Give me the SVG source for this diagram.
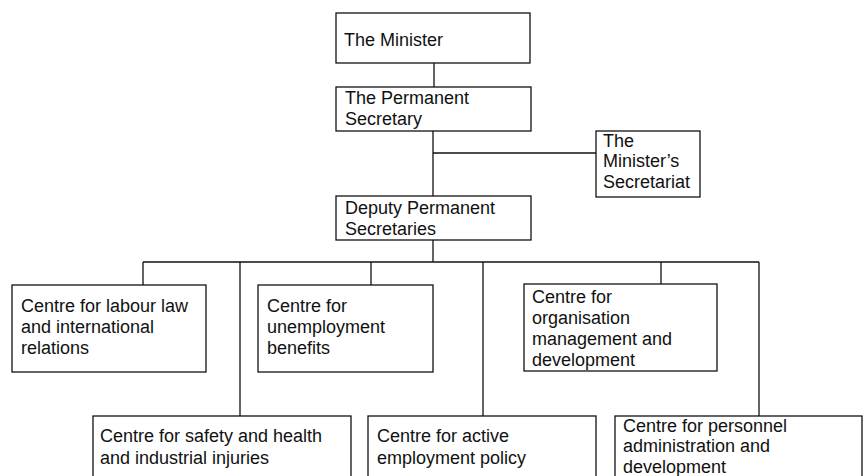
<svg xmlns="http://www.w3.org/2000/svg" width="864" height="476" viewBox="0 0 864 476">
  <style>
    .box { fill: #ffffff; stroke: #111111; stroke-width: 1.3; }
    .lbl { font-family: "Liberation Sans", Arial, sans-serif; font-size: 18px; fill: #111111; }
    .conn { stroke: #111111; stroke-width: 1.3; fill: none; }
  </style>
  <rect width="864" height="476" fill="#ffffff"/>

  <!-- connectors -->
  <g id="connectors" class="conn">
    <line x1="434" y1="63" x2="434" y2="87"/>
    <line x1="433" y1="131" x2="433" y2="196"/>
    <line x1="433" y1="153" x2="596" y2="153"/>
    <line x1="433" y1="240" x2="433" y2="262"/>
    <line x1="143" y1="262" x2="759" y2="262"/>
    <line x1="143" y1="262" x2="143" y2="285"/>
    <line x1="240" y1="262" x2="240" y2="416"/>
    <line x1="371" y1="262" x2="371" y2="285"/>
    <line x1="483" y1="262" x2="483" y2="416"/>
    <line x1="661" y1="262" x2="661" y2="284"/>
    <line x1="759" y1="262" x2="759" y2="416"/>
  </g>

  <g id="minister">
    <rect class="box" x="336" y="13" width="194" height="50"/>
    <text class="lbl" x="344" y="46">The Minister</text>
  </g>

  <g id="permanent-secretary">
    <rect class="box" x="336" y="87" width="195" height="44"/>
    <text class="lbl" x="345" y="104">The Permanent</text>
    <text class="lbl" x="345" y="125">Secretary</text>
  </g>

  <g id="secretariat">
    <rect class="box" x="596" y="131" width="104" height="66"/>
    <text class="lbl" x="603" y="147">The</text>
    <text class="lbl" x="603" y="167">Minister’s</text>
    <text class="lbl" x="603" y="188">Secretariat</text>
  </g>

  <g id="deputy">
    <rect class="box" x="336" y="196" width="195" height="44"/>
    <text class="lbl" x="345" y="214">Deputy Permanent</text>
    <text class="lbl" x="345" y="235">Secretaries</text>
  </g>

  <g id="labour-law">
    <rect class="box" x="12" y="285" width="194" height="87"/>
    <text class="lbl" x="21" y="312">Centre for labour law</text>
    <text class="lbl" x="21" y="333">and international</text>
    <text class="lbl" x="21" y="354">relations</text>
  </g>

  <g id="unemployment">
    <rect class="box" x="258" y="285" width="175" height="87"/>
    <text class="lbl" x="267" y="312">Centre for</text>
    <text class="lbl" x="267" y="333">unemployment</text>
    <text class="lbl" x="267" y="354">benefits</text>
  </g>

  <g id="organisation">
    <rect class="box" x="524" y="284" width="193" height="87"/>
    <text class="lbl" x="532" y="303">Centre for</text>
    <text class="lbl" x="532" y="324">organisation</text>
    <text class="lbl" x="532" y="345">management and</text>
    <text class="lbl" x="532" y="366">development</text>
  </g>

  <g id="safety">
    <rect class="box" x="93" y="416" width="258" height="70"/>
    <text class="lbl" x="100" y="442">Centre for safety and health</text>
    <text class="lbl" x="100" y="464">and industrial injuries</text>
  </g>

  <g id="active-employment">
    <rect class="box" x="368" y="416" width="228" height="70"/>
    <text class="lbl" x="377" y="442">Centre for active</text>
    <text class="lbl" x="377" y="464">employment policy</text>
  </g>

  <g id="personnel">
    <rect class="box" x="615" y="416" width="247" height="70"/>
    <text class="lbl" x="623" y="432">Centre for personnel</text>
    <text class="lbl" x="623" y="452">administration and</text>
    <text class="lbl" x="623" y="473">development</text>
  </g>
</svg>
